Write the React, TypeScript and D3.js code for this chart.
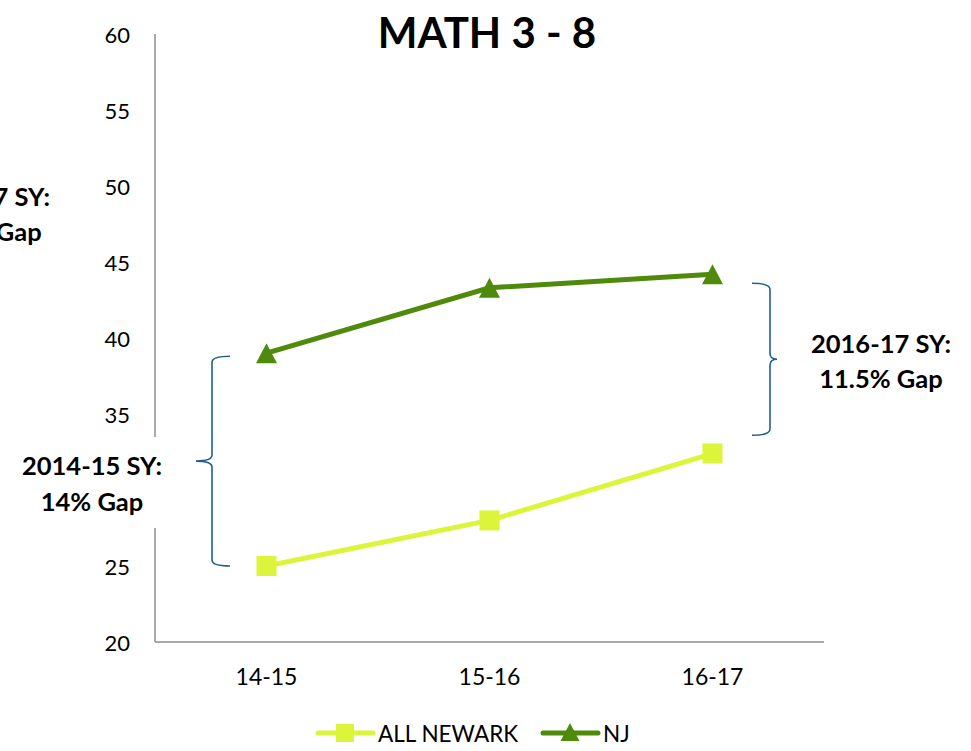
import React from "react";
import * as d3 from "d3";

const categories = ["14-15", "15-16", "16-17"];
const newarkValues = [25.0, 28.0, 32.4];
const njValues = [39.0, 43.3, 44.2];
const yTicks = [20, 25, 30, 35, 40, 45, 50, 55, 60];
const seriesNames = ["ALL NEWARK", "NJ"];
const title = "MATH 3 - 8";
const gapLeftLines = ["2014-15 SY:", "14% Gap"];
const gapRightLines = ["2016-17 SY:", "11.5% Gap"];
const gapLeftRange = [38.8, 25.0];
const gapRightRange = [43.6, 33.6];

const W = 971;
const H = 751;
const M = { left: 155, right: 824, top: 34, bottom: 642 };
const NEWARK_COLOR = "#DCF53A";
const NJ_COLOR = "#4F8A0B";
const BRACE_COLOR = "#225E8C";
const AXIS_COLOR = "#8C8C8C";
const FONT = "Lato, 'Open Sans', sans-serif";

function bracePath(x0: number, xv: number, xt: number, top: number, bot: number) {
  const mid = (top + bot) / 2;
  const r = 6;
  return `M${x0},${top} Q${xv},${top} ${xv},${top + r} L${xv},${mid - r} Q${xv},${mid} ${xt},${mid} Q${xv},${mid} ${xv},${mid + r} L${xv},${bot - r} Q${xv},${bot} ${x0},${bot}`;
}

function Triangle({ cx, cy, size, color }: { cx: number; cy: number; size: number; color: string }) {
  const h = size * 0.95;
  return (
    <path
      d={`M${cx},${cy - h / 2} L${cx + size / 2},${cy + h / 2} L${cx - size / 2},${cy + h / 2} Z`}
      fill={color}
    />
  );
}

export default function App() {
  const x = d3.scaleBand<string>().domain(categories).range([M.left, M.right]);
  const y = d3.scaleLinear().domain([20, 60]).range([M.bottom, M.top]);
  const cx = (c: string) => (x(c) as number) + x.bandwidth() / 2;
  const line = d3
    .line<number>()
    .x((_, i) => cx(categories[i]))
    .y((d) => y(d));

  const legendY = 733;
  const annSize = 25.5;

  return (
    <svg width={W} height={H} style={{ position: "absolute", left: 0, top: 0, background: "#fff" }} fontFamily={FONT}>
      <rect x={0} y={0} width={W} height={H} fill="#fff" />
      {/* axes */}
      <line x1={M.left} x2={M.left} y1={y(60)} y2={y(20)} stroke={AXIS_COLOR} strokeWidth={1.5} />
      <line x1={M.left} x2={M.right} y1={y(20)} y2={y(20)} stroke={AXIS_COLOR} strokeWidth={1.5} />
      {yTicks.map((t) => (
        <text key={t} x={130} y={y(t)} textAnchor="end" dominantBaseline="central" fontSize={22} fill="#000">
          {t}
        </text>
      ))}
      {categories.map((c) => (
        <text key={c} x={cx(c)} y={676} textAnchor="middle" dominantBaseline="central" fontSize={23} fill="#000">
          {c}
        </text>
      ))}
      {/* title */}
      <text x={487} y={32} textAnchor="middle" dominantBaseline="central" fontSize={42} fontWeight="bold" fill="#000">
        {title}
      </text>

      {/* series */}
      <path d={line(newarkValues) || ""} fill="none" stroke={NEWARK_COLOR} strokeWidth={5} />
      <path d={line(njValues) || ""} fill="none" stroke={NJ_COLOR} strokeWidth={5} />
      {newarkValues.map((v, i) => (
        <rect key={i} x={cx(categories[i]) - 10} y={y(v) - 10} width={20} height={20} fill={NEWARK_COLOR} />
      ))}
      {njValues.map((v, i) => (
        <Triangle key={i} cx={cx(categories[i])} cy={y(v)} size={21} color={NJ_COLOR} />
      ))}

      {/* left annotation */}
      <rect x={10} y={437} width={158} height={91} fill="#fff" />
      <path d={bracePath(230, 212, 196, y(gapLeftRange[0]), y(gapLeftRange[1]))} fill="none" stroke={BRACE_COLOR} strokeWidth={1.6} />
      {gapLeftLines.map((t, i) => (
        <text key={i} x={92} y={465 + i * 36} textAnchor="middle" dominantBaseline="central" fontSize={annSize} fontWeight="bold" fill="#000">
          {t}
        </text>
      ))}
      {/* right annotation */}
      <path d={bracePath(752, 770, 777, y(gapRightRange[0]), y(gapRightRange[1]))} fill="none" stroke={BRACE_COLOR} strokeWidth={1.6} />
      {gapRightLines.map((t, i) => (
        <text key={i} x={881} y={343 + i * 35} textAnchor="middle" dominantBaseline="central" fontSize={annSize} fontWeight="bold" fill="#000">
          {t}
        </text>
      ))}
      {/* clipped annotation at far left */}
      {gapRightLines.map((t, i) => (
        <text key={"c" + i} x={-20} y={196 + i * 35} textAnchor="middle" dominantBaseline="central" fontSize={annSize} fontWeight="bold" fill="#000">
          {t}
        </text>
      ))}

      {/* legend */}
      <line x1={318} x2={373} y1={legendY} y2={legendY} stroke={NEWARK_COLOR} strokeWidth={5} strokeLinecap="round" />
      <rect x={336} y={legendY - 9} width={18} height={18} fill={NEWARK_COLOR} />
      <text x={378} y={legendY} dominantBaseline="central" fontSize={22.5} fill="#000">
        {seriesNames[0]}
      </text>
      <line x1={543} x2={598} y1={legendY} y2={legendY} stroke={NJ_COLOR} strokeWidth={5} strokeLinecap="round" />
      <Triangle cx={570} cy={legendY - 1} size={19} color={NJ_COLOR} />
      <text x={603} y={legendY} dominantBaseline="central" fontSize={22.5} fill="#000">
        {seriesNames[1]}
      </text>
    </svg>
  );
}
